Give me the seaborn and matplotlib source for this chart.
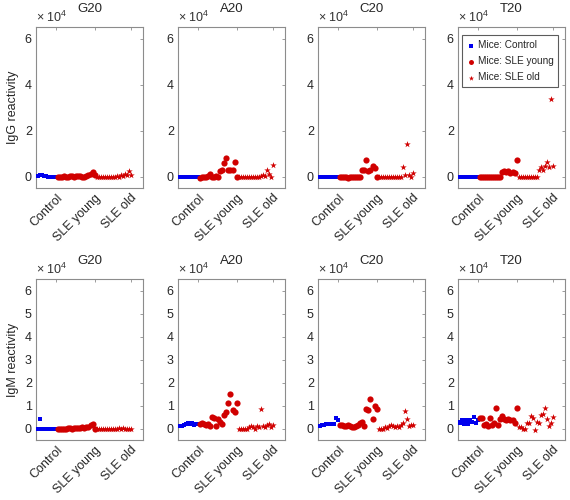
import numpy as np
import pandas as pd
import matplotlib
matplotlib.use('Agg')
import matplotlib.pyplot as plt
from matplotlib.ticker import FuncFormatter, FixedLocator
import seaborn as sns

# ------------------------------------------------------------
# Datos - reactividad por sonda
# ------------------------------------------------------------
grupos = ['Control', 'SLE young', 'SLE old']
sondas = ['G20', 'A20', 'C20', 'T20']
filas = ['IgG reactivity', 'IgM reactivity']

igg_control = {
    'G20': [200, 300, 600, 500, 200, 100, 0, 0, 0, 0, 0],
    'A20': [-200, -200, -200, -100, -200, -200, -200, -200, -100, -200, -200],
    'C20': [-200, -200, -300, -200, -200, -100, -200, -200, -200, -200, -200],
    'T20': [0, 0, 0, 0, 0, 0, 0, 0, 0, 0, 0],
}
igg_young = {
    'G20': [0, -100, 0, 100, 0, 0, 100, 200, 0, 100, 200, 300, 0, -300, 300, 500, 1200, 1800, 600],
    'A20': [-600, -300, 0, -300, 200, 1000, 0, -200, 100, 0, 2500, 3000, 5800, 8000, 3000, 2900, 3000, 6400, 0],
    'C20': [-200, -100, 0, -300, -800, -200, -300, -200, 0, -100, 0, 3000, 3000, 7000, 2500, 3000, 4500, 3500, 0],
    'T20': [0, 0, 0, 0, 0, 0, 0, 0, 0, 0, 0, 2000, 2500, 2000, 2600, 1500, 2000, 1500, 7200],
}
igg_old = {
    'G20': [0, 0, 0, 0, 0, 0, 0, 0, 0, 0, 300, -200, 500, 300, 1000, 800, 2500, 700],
    'A20': [0, 0, 0, 0, 0, 0, 0, 0, 0, 0, 0, 200, 500, 400, 2900, 1000, 0, 4800],
    'C20': [0, 0, 0, 0, 0, 0, 0, 0, 0, 0, 0, 0, 4000, 500, 14000, 500, -300, 1500],
    'T20': [0, 0, 0, 0, 0, 0, 0, 0, 0, 0, 2900, 4000, 3000, 4600, 6500, 4000, 33600, 4500],
}

igm_control = {
    'G20': [0, 0, 4000, 0, 0, 0, 0, 0, 0, 0, 0],
    'A20': [1000, 1000, 1000, 1500, 2000, 2500, 2000, 2500, 1500, 2000, 2000],
    'C20': [1000, 1200, 1500, 1700, 1800, 2000, 2000, 2000, 1800, 4500, 3500],
    'T20': [3000, 2500, 3500, 2000, 3500, 2000, 3500, 3000, 5000, 2500, 3500],
}
igm_young = {
    'G20': [0, 0, 0, 0, 0, 100, 200, 0, 100, 200, 300, 400, 500, 300, 500, 800, 1500, 2000, 0],
    'A20': [2000, 2500, 2000, 1500, 2000, 1000, 5000, 4500, 1000, 4000, 3000, 2000, 6000, 7000, 11000, 15200, 8000, 7200, 11000],
    'C20': [1500, 1500, 1200, 1000, 1500, 1000, 500, 500, 1000, 1500, 2500, 3000, 1000, 8500, 8000, 13000, 4000, 10000, 8500],
    'T20': [4500, 4500, 1500, 2000, 1000, 4500, 1500, 2500, 9000, 1500, 4000, 5500, 4000, 3500, 4000, 3500, 3500, 2500, 9000],
}
igm_old = {
    'G20': [0, 0, 0, 0, 0, 0, 0, 0, 0, 0, 0, 200, 0, 300, 0, -200, -400, 0],
    'A20': [0, 0, 0, 0, 0, 500, 1000, 500, 0, 1000, 500, 8500, 1000, 500, 1500, 2000, 500, 1500],
    'C20': [0, 0, 0, 500, 300, 1000, 1500, 1000, 500, 1000, 500, 1500, 2500, 7500, 4000, 1000, 1500, 1500],
    'T20': [500, 500, 0, 0, 2500, 2500, 5500, 4500, -500, 3000, 2500, 6000, 6500, 9000, 4000, 1000, 2500, 5000],
}

datos = {
    'IgG reactivity': (igg_control, igg_young, igg_old),
    'IgM reactivity': (igm_control, igm_young, igm_old),
}

etiquetas_leyenda = {'Control': 'Mice: Control',
                     'SLE young': 'Mice: SLE young',
                     'SLE old': 'Mice: SLE old'}
colores = {'Mice: Control': '#0000ee', 'Mice: SLE young': '#d00000',
           'Mice: SLE old': '#d00000'}
marcadores = {'Mice: Control': 's', 'Mice: SLE young': 'o', 'Mice: SLE old': '*'}
tamanos = {'Mice: Control': 10, 'Mice: SLE young': 20, 'Mice: SLE old': 24}

# ------------------------------------------------------------
# Estilo
# ------------------------------------------------------------
sns.set_style('white')
plt.rcParams['font.family'] = ['Liberation Sans', 'DejaVu Sans']
plt.rcParams['font.size'] = 9
plt.rcParams['mathtext.fontset'] = 'custom'
plt.rcParams['mathtext.rm'] = 'Liberation Sans'

fig = plt.figure(figsize=(5.7, 5.0), dpi=100)

lefts = [36, 178, 318, 458]
tops = [27, 279]
W, H = 107, 161

# eje y en unidades de 10^4
fmt_1e4 = FuncFormatter(lambda v, pos: f'{v / 1e4:g}')

for r, fila in enumerate(filas):
    ctrl, young, old = datos[fila]
    for c, sonda in enumerate(sondas):
        ax = fig.add_axes([lefts[c] / 570, 1 - (tops[r] + H) / 500, W / 570, H / 500])

        partes = []
        inicio = 1
        fines = []
        for g, serie in zip(grupos, (ctrl[sonda], young[sonda], old[sonda])):
            n = len(serie)
            partes.append(pd.DataFrame({'x': np.arange(inicio, inicio + n),
                                        'y': serie,
                                        'grupo': etiquetas_leyenda[g]}))
            inicio += n
            fines.append(inicio - 1)
        df = pd.concat(partes, ignore_index=True)

        for g in etiquetas_leyenda.values():
            sub = df[df['grupo'] == g]
            sns.scatterplot(data=sub, x='x', y='y', ax=ax, color=colores[g],
                            marker=marcadores[g], s=tamanos[g], linewidth=0,
                            label=g, zorder=3)

        ax.set_xlim(1, 54)
        ax.set_ylim(-5000, 65000)
        if r == 0:
            ax.set_yticks([0, 20000, 40000, 60000])
        else:
            ax.set_yticks([0, 10000, 20000, 30000, 40000, 50000, 60000])
        ax.yaxis.set_major_formatter(fmt_1e4)
        ax.text(0.0, 1.015, r'$\times$ 10$^{4}$', transform=ax.transAxes,
                ha='left', va='bottom', fontsize=9, color='#333333')

        ax.xaxis.set_major_locator(FixedLocator(fines))
        ax.set_xticklabels(grupos, rotation=45, ha='right', rotation_mode='anchor')

        ax.set_xlabel('')
        ax.set_ylabel(fila if c == 0 else '', fontsize=9)
        ax.set_title(sonda, fontsize=9.5, pad=11)

        for s in ax.spines.values():
            s.set_color('#8c8c8c')
            s.set_linewidth(0.8)
        ax.tick_params(direction='in', length=2.5, width=0.6, color='#8c8c8c',
                       labelsize=9, labelcolor='#262626', top=True, right=True,
                       pad=3)

        if r == 0 and c == 3:
            leg = ax.legend(loc='upper right', fontsize=7.2, frameon=True,
                            borderpad=0.5, handletextpad=0.3, labelspacing=0.6,
                            handlelength=0.8, markerscale=0.8,
                            bbox_to_anchor=(0.985, 0.98))
            leg.get_frame().set_edgecolor('#333333')
            leg.get_frame().set_linewidth(0.8)
            leg.get_frame().set_boxstyle('square', pad=0)
        else:
            lg = ax.get_legend()
            if lg is not None:
                lg.remove()

plt.savefig('out.png', dpi=100)
plt.close()
